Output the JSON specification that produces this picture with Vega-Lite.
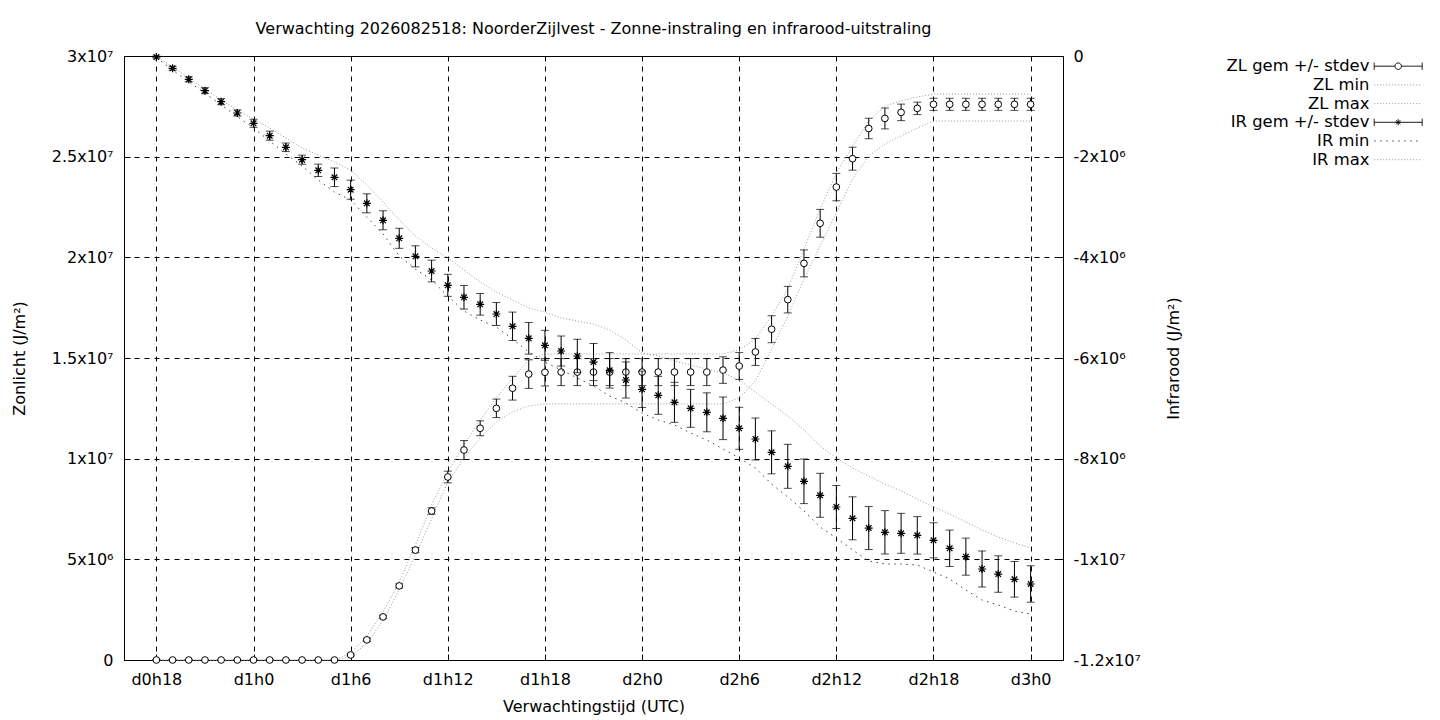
{
  "$schema": "https://vega.github.io/schema/vega-lite/v6.json",
  "width": 939,
  "height": 604,
  "autosize": {"type": "none"},
  "padding": {"left": 124, "top": 56, "right": 377, "bottom": 60},
  "background": "white",
  "title": {
    "text": "Verwachting 2026082518: NoorderZijlvest - Zonne-instraling en infrarood-uitstraling",
    "frame": "group",
    "anchor": "middle",
    "offset": 11,
    "font": "DejaVu Sans",
    "fontSize": 16,
    "fontWeight": "normal",
    "color": "black"
  },
  "data": {
    "values": [
      {"h": 18, "zl": 0, "zl_sd": 0, "zl_min": 0, "zl_max": 0, "ir": -20000, "ir_sd": 20000, "ir_min": -30000, "ir_max": 0},
      {"h": 19, "zl": 0, "zl_sd": 0, "zl_min": 0, "zl_max": 0, "ir": -244000, "ir_sd": 40000, "ir_min": -280000, "ir_max": -219000},
      {"h": 20, "zl": 0, "zl_sd": 0, "zl_min": 0, "zl_max": 0, "ir": -463000, "ir_sd": 50000, "ir_min": -510000, "ir_max": -437000},
      {"h": 21, "zl": 0, "zl_sd": 0, "zl_min": 0, "zl_max": 0, "ir": -689000, "ir_sd": 60000, "ir_min": -740000, "ir_max": -656000},
      {"h": 22, "zl": 0, "zl_sd": 0, "zl_min": 0, "zl_max": 0, "ir": -908000, "ir_sd": 60000, "ir_min": -970000, "ir_max": -874000},
      {"h": 23, "zl": 0, "zl_sd": 0, "zl_min": 0, "zl_max": 0, "ir": -1132000, "ir_sd": 60000, "ir_min": -1206000, "ir_max": -1073000},
      {"h": 24, "zl": 0, "zl_sd": 0, "zl_min": 0, "zl_max": 0, "ir": -1337000, "ir_sd": 80000, "ir_min": -1430000, "ir_max": -1252000},
      {"h": 25, "zl": 0, "zl_sd": 0, "zl_min": 0, "zl_max": 0, "ir": -1583000, "ir_sd": 90000, "ir_min": -1689000, "ir_max": -1430000},
      {"h": 26, "zl": 0, "zl_sd": 0, "zl_min": 0, "zl_max": 0, "ir": -1814000, "ir_sd": 85000, "ir_min": -1947000, "ir_max": -1629000},
      {"h": 27, "zl": 0, "zl_sd": 0, "zl_min": 0, "zl_max": 0, "ir": -2060000, "ir_sd": 90000, "ir_min": -2185000, "ir_max": -1828000},
      {"h": 28, "zl": 0, "zl_sd": 0, "zl_min": 0, "zl_max": 0, "ir": -2271000, "ir_sd": 123000, "ir_min": -2464000, "ir_max": -1967000},
      {"h": 29, "zl": 0, "zl_sd": 0, "zl_min": 0, "zl_max": 0, "ir": -2410000, "ir_sd": 185000, "ir_min": -2702000, "ir_max": -2106000},
      {"h": 30, "zl": 250000, "zl_sd": 50000, "zl_min": 150000, "zl_max": 350000, "ir": -2656000, "ir_sd": 189000, "ir_min": -2861000, "ir_max": -2265000},
      {"h": 31, "zl": 1000000, "zl_sd": 75000, "zl_min": 850000, "zl_max": 1190000, "ir": -2927000, "ir_sd": 189000, "ir_min": -3199000, "ir_max": -2563000},
      {"h": 32, "zl": 2140000, "zl_sd": 75000, "zl_min": 1950000, "zl_max": 2380000, "ir": -3264000, "ir_sd": 189000, "ir_min": -3536000, "ir_max": -2901000},
      {"h": 33, "zl": 3680000, "zl_sd": 100000, "zl_min": 3500000, "zl_max": 3870000, "ir": -3622000, "ir_sd": 199000, "ir_min": -3974000, "ir_max": -3258000},
      {"h": 34, "zl": 5460000, "zl_sd": 130000, "zl_min": 5200000, "zl_max": 5710000, "ir": -3980000, "ir_sd": 209000, "ir_min": -4232000, "ir_max": -3576000},
      {"h": 35, "zl": 7400000, "zl_sd": 160000, "zl_min": 7000000, "zl_max": 7700000, "ir": -4272000, "ir_sd": 215000, "ir_min": -4450000, "ir_max": -3815000},
      {"h": 36, "zl": 9090000, "zl_sd": 290000, "zl_min": 8840000, "zl_max": 9340000, "ir": -4556000, "ir_sd": 219000, "ir_min": -4768000, "ir_max": -4013000},
      {"h": 37, "zl": 10430000, "zl_sd": 470000, "zl_min": 10030000, "zl_max": 10680000, "ir": -4794000, "ir_sd": 234000, "ir_min": -5066000, "ir_max": -4252000},
      {"h": 38, "zl": 11510000, "zl_sd": 370000, "zl_min": 11030000, "zl_max": 11920000, "ir": -4933000, "ir_sd": 215000, "ir_min": -5245000, "ir_max": -4490000},
      {"h": 39, "zl": 12500000, "zl_sd": 460000, "zl_min": 11820000, "zl_max": 13010000, "ir": -5126000, "ir_sd": 228000, "ir_min": -5384000, "ir_max": -4689000},
      {"h": 40, "zl": 13500000, "zl_sd": 590000, "zl_min": 12320000, "zl_max": 14000000, "ir": -5370000, "ir_sd": 282000, "ir_min": -5623000, "ir_max": -4848000},
      {"h": 41, "zl": 14200000, "zl_sd": 710000, "zl_min": 12620000, "zl_max": 14900000, "ir": -5609000, "ir_sd": 314000, "ir_min": -5881000, "ir_max": -5007000},
      {"h": 42, "zl": 14290000, "zl_sd": 680000, "zl_min": 12720000, "zl_max": 15200000, "ir": -5748000, "ir_sd": 298000, "ir_min": -6080000, "ir_max": -5086000},
      {"h": 43, "zl": 14300000, "zl_sd": 670000, "zl_min": 12720000, "zl_max": 15200000, "ir": -5861000, "ir_sd": 298000, "ir_min": -6238000, "ir_max": -5205000},
      {"h": 44, "zl": 14300000, "zl_sd": 670000, "zl_min": 12720000, "zl_max": 15200000, "ir": -5960000, "ir_sd": 332000, "ir_min": -6397000, "ir_max": -5265000},
      {"h": 45, "zl": 14300000, "zl_sd": 670000, "zl_min": 12720000, "zl_max": 15200000, "ir": -6080000, "ir_sd": 368000, "ir_min": -6556000, "ir_max": -5325000},
      {"h": 46, "zl": 14300000, "zl_sd": 670000, "zl_min": 12720000, "zl_max": 15200000, "ir": -6245000, "ir_sd": 352000, "ir_min": -6755000, "ir_max": -5444000},
      {"h": 47, "zl": 14300000, "zl_sd": 670000, "zl_min": 12720000, "zl_max": 15200000, "ir": -6437000, "ir_sd": 358000, "ir_min": -6894000, "ir_max": -5643000},
      {"h": 48, "zl": 14300000, "zl_sd": 670000, "zl_min": 12720000, "zl_max": 15200000, "ir": -6622000, "ir_sd": 362000, "ir_min": -7093000, "ir_max": -5901000},
      {"h": 49, "zl": 14300000, "zl_sd": 670000, "zl_min": 12720000, "zl_max": 15200000, "ir": -6742000, "ir_sd": 377000, "ir_min": -7232000, "ir_max": -5960000},
      {"h": 50, "zl": 14300000, "zl_sd": 670000, "zl_min": 12720000, "zl_max": 15200000, "ir": -6881000, "ir_sd": 397000, "ir_min": -7331000, "ir_max": -6060000},
      {"h": 51, "zl": 14300000, "zl_sd": 670000, "zl_min": 12720000, "zl_max": 15200000, "ir": -7000000, "ir_sd": 377000, "ir_min": -7490000, "ir_max": -6139000},
      {"h": 52, "zl": 14300000, "zl_sd": 670000, "zl_min": 12720000, "zl_max": 15200000, "ir": -7079000, "ir_sd": 387000, "ir_min": -7629000, "ir_max": -6219000},
      {"h": 53, "zl": 14400000, "zl_sd": 660000, "zl_min": 12720000, "zl_max": 15200000, "ir": -7198000, "ir_sd": 423000, "ir_min": -7808000, "ir_max": -6298000},
      {"h": 54, "zl": 14600000, "zl_sd": 670000, "zl_min": 13010000, "zl_max": 15400000, "ir": -7397000, "ir_sd": 417000, "ir_min": -7987000, "ir_max": -6437000},
      {"h": 55, "zl": 15300000, "zl_sd": 670000, "zl_min": 13860000, "zl_max": 15940000, "ir": -7609000, "ir_sd": 417000, "ir_min": -8186000, "ir_max": -6676000},
      {"h": 56, "zl": 16430000, "zl_sd": 670000, "zl_min": 15450000, "zl_max": 17090000, "ir": -7874000, "ir_sd": 427000, "ir_min": -8503000, "ir_max": -6914000},
      {"h": 57, "zl": 17900000, "zl_sd": 660000, "zl_min": 17090000, "zl_max": 18430000, "ir": -8152000, "ir_sd": 437000, "ir_min": -8762000, "ir_max": -7152000},
      {"h": 58, "zl": 19700000, "zl_sd": 670000, "zl_min": 18920000, "zl_max": 20410000, "ir": -8450000, "ir_sd": 443000, "ir_min": -9040000, "ir_max": -7430000},
      {"h": 59, "zl": 21690000, "zl_sd": 690000, "zl_min": 20560000, "zl_max": 22400000, "ir": -8728000, "ir_sd": 437000, "ir_min": -9358000, "ir_max": -7748000},
      {"h": 60, "zl": 23490000, "zl_sd": 680000, "zl_min": 22200000, "zl_max": 24190000, "ir": -8960000, "ir_sd": 427000, "ir_min": -9576000, "ir_max": -7987000},
      {"h": 61, "zl": 24900000, "zl_sd": 570000, "zl_min": 23890000, "zl_max": 25530000, "ir": -9185000, "ir_sd": 427000, "ir_min": -9815000, "ir_max": -8186000},
      {"h": 62, "zl": 26400000, "zl_sd": 510000, "zl_min": 25030000, "zl_max": 26770000, "ir": -9378000, "ir_sd": 427000, "ir_min": -10033000, "ir_max": -8345000},
      {"h": 63, "zl": 26900000, "zl_sd": 520000, "zl_min": 25630000, "zl_max": 27520000, "ir": -9463000, "ir_sd": 431000, "ir_min": -10093000, "ir_max": -8504000},
      {"h": 64, "zl": 27200000, "zl_sd": 410000, "zl_min": 26030000, "zl_max": 27770000, "ir": -9483000, "ir_sd": 397000, "ir_min": -10093000, "ir_max": -8643000},
      {"h": 65, "zl": 27400000, "zl_sd": 310000, "zl_min": 26420000, "zl_max": 27960000, "ir": -9523000, "ir_sd": 372000, "ir_min": -10113000, "ir_max": -8802000},
      {"h": 66, "zl": 27600000, "zl_sd": 300000, "zl_min": 26770000, "zl_max": 28110000, "ir": -9622000, "ir_sd": 348000, "ir_min": -10252000, "ir_max": -8960000},
      {"h": 67, "zl": 27600000, "zl_sd": 300000, "zl_min": 26770000, "zl_max": 28110000, "ir": -9781000, "ir_sd": 362000, "ir_min": -10391000, "ir_max": -9100000},
      {"h": 68, "zl": 27600000, "zl_sd": 300000, "zl_min": 26770000, "zl_max": 28110000, "ir": -9947000, "ir_sd": 368000, "ir_min": -10610000, "ir_max": -9258000},
      {"h": 69, "zl": 27600000, "zl_sd": 300000, "zl_min": 26770000, "zl_max": 28110000, "ir": -10192000, "ir_sd": 358000, "ir_min": -10808000, "ir_max": -9417000},
      {"h": 70, "zl": 27600000, "zl_sd": 300000, "zl_min": 26770000, "zl_max": 28110000, "ir": -10292000, "ir_sd": 362000, "ir_min": -10907000, "ir_max": -9556000},
      {"h": 71, "zl": 27600000, "zl_sd": 300000, "zl_min": 26770000, "zl_max": 28110000, "ir": -10397000, "ir_sd": 354000, "ir_min": -11027000, "ir_max": -9676000},
      {"h": 72, "zl": 27600000, "zl_sd": 300000, "zl_min": 26770000, "zl_max": 28110000, "ir": -10490000, "ir_sd": 362000, "ir_min": -11086000, "ir_max": -9775000}
    ]
  },
  "encoding": {
    "x": {
      "field": "h",
      "type": "quantitative",
      "scale": {"domain": [16, 74], "nice": false, "zero": false},
      "axis": {
        "title": "Verwachtingstijd (UTC)",
        "values": [18, 24, 30, 36, 42, 48, 54, 60, 66, 72],
        "labelExpr": "'d' + floor(datum.value / 24) + 'h' + (datum.value % 24)",
        "labelPadding": 17,
        "titleY": 46,
        "titleBaseline": "middle"
      }
    }
  },
  "layer": [
    {
      "layer": [
        {
          "mark": {"type": "line", "strokeWidth": 1, "strokeDash": [1, 2]},
          "encoding": {
            "y": {
              "field": "zl_min",
              "type": "quantitative",
              "title": "Zonlicht (J/m²)",
              "scale": {"domain": [0, 30000000], "nice": false},
              "axis": {
                "orient": "left",
                "title": "Zonlicht (J/m²)",
                "values": [0, 5000000, 10000000, 15000000, 20000000, 25000000, 30000000],
                "labelExpr": "datum.value == 0 ? '0' : abs(datum.value) >= 10000000 ? (datum.value / 10000000) + 'x10⁷' : (datum.value / 1000000) + 'x10⁶'",
                "labelPadding": 17,
                "titleX": -105,
                "titleY": 302,
                "titleAngle": 270,
                "titleBaseline": "middle"
              }
            },
            "color": {
              "datum": "ZL min",
              "type": "nominal",
              "scale": {
                "domain": ["ZL gem +/- stdev", "ZL min", "ZL max", "IR gem +/- stdev", "IR min", "IR max"],
                "range": ["black", "#9a9a9a", "#9a9a9a", "black", "#444444", "#9a9a9a"]
              },
              "legend": {
                "title": null,
                "orient": "none",
                "legendX": 1266,
                "legendY": 2,
                "padding": 0,
                "symbolSize": 144,
                "labelAlign": "right",
                "labelOffset": -37,
                "labelFont": "DejaVu Sans",
                "labelFontSize": 16.4,
                "labelColor": "black",
                "labelLimit": 0,
                "rowPadding": 1.7,
                "encode": {
                  "symbols": {
                    "update": {
                      "shape": {"signal": "datum.value === 'ZL gem +/- stdev' ? 'M-4,0H-0.55M0.55,0H4M-4,-0.6V0.6M4,-0.6V0.6M0.55,0L0.476,0.275L0.275,0.476L0,0.55L-0.275,0.476L-0.476,0.275L-0.55,0L-0.476,-0.275L-0.275,-0.476L0,-0.55L0.275,-0.476L0.476,-0.275Z' : datum.value === 'IR gem +/- stdev' ? 'M-4,0H4M-4,-0.6V0.6M4,-0.6V0.6M-0.5,0H0.5M0,-0.5V0.5M-0.35,-0.35L0.35,0.35M-0.35,0.35L0.35,-0.35' : 'M-4,0H4'"},
                      "strokeDash": {"signal": "datum.value === 'IR min' ? [1.5, 4.5] : indexof(datum.value, 'gem') >= 0 ? [1, 0] : [1, 2]"},
                      "fill": {"signal": "'white'"},
                      "fillOpacity": {"signal": "0"},
                      "stroke": {"signal": "datum.value === 'IR min' ? '#444444' : indexof(datum.value, 'gem') >= 0 ? 'black' : '#9a9a9a'"},
                      "strokeWidth": {"value": 1},
                      "strokeOpacity": {"value": 1},
                      "opacity": {"value": 1}
                    }
                  }
                }
              }
            }
          }
        },
        {
          "mark": {"type": "line", "strokeWidth": 1, "strokeDash": [1, 2]},
          "encoding": {
            "y": {"field": "zl_max", "type": "quantitative", "title": "Zonlicht (J/m²)"},
            "color": {"datum": "ZL max", "type": "nominal"}
          }
        },
        {
          "mark": {"type": "errorbar", "ticks": {"size": 8}},
          "encoding": {
            "y": {"field": "zl", "type": "quantitative", "title": "Zonlicht (J/m²)"},
            "yError": {"field": "zl_sd"},
            "color": {"datum": "ZL gem +/- stdev", "type": "nominal"}
          }
        },
        {
          "mark": {"type": "point", "shape": "circle", "size": 45, "filled": false, "fill": "white", "fillOpacity": 1, "stroke": "black", "strokeWidth": 1, "opacity": 1},
          "encoding": {
            "y": {"field": "zl", "type": "quantitative", "title": "Zonlicht (J/m²)"}
          }
        }
      ]
    },
    {
      "layer": [
        {
          "mark": {"type": "line", "strokeWidth": 1, "strokeDash": [1.5, 4.5]},
          "encoding": {
            "y": {
              "field": "ir_min",
              "type": "quantitative",
              "title": "Infrarood (J/m²)",
              "scale": {"domain": [-12000000, 0], "nice": false},
              "axis": {
                "orient": "right",
                "title": "Infrarood (J/m²)",
                "grid": false,
                "values": [-12000000, -10000000, -8000000, -6000000, -4000000, -2000000, 0],
                "labelExpr": "datum.value == 0 ? '0' : abs(datum.value) >= 10000000 ? (datum.value / 10000000) + 'x10⁷' : (datum.value / 1000000) + 'x10⁶'",
                "labelPadding": 16,
                "titleX": 110,
                "titleY": 302,
                "titleAngle": 270,
                "titleBaseline": "middle"
              }
            },
            "color": {"datum": "IR min", "type": "nominal"}
          }
        },
        {
          "mark": {"type": "line", "strokeWidth": 1, "strokeDash": [1, 2]},
          "encoding": {
            "y": {"field": "ir_max", "type": "quantitative", "title": "Infrarood (J/m²)"},
            "color": {"datum": "IR max", "type": "nominal"}
          }
        },
        {
          "mark": {"type": "errorbar", "ticks": {"size": 8}},
          "encoding": {
            "y": {"field": "ir", "type": "quantitative", "title": "Infrarood (J/m²)"},
            "yError": {"field": "ir_sd"},
            "color": {"datum": "IR gem +/- stdev", "type": "nominal"}
          }
        },
        {
          "mark": {"type": "point", "shape": "M-1,0H1M0,-1V1M-0.7,-0.7L0.7,0.7M-0.7,0.7L0.7,-0.7", "size": 64, "filled": false, "stroke": "black", "strokeWidth": 1.2, "opacity": 1},
          "encoding": {
            "y": {"field": "ir", "type": "quantitative", "title": "Infrarood (J/m²)"}
          }
        }
      ]
    }
  ],
  "resolve": {"scale": {"y": "independent"}},
  "config": {
    "view": {"stroke": "black", "strokeWidth": 1},
    "axis": {
      "domain": false,
      "grid": true,
      "gridColor": "black",
      "gridOpacity": 1,
      "gridDash": [5, 5],
      "gridWidth": 1,
      "ticks": true,
      "tickColor": "black",
      "tickSize": -6,
      "tickWidth": 1,
      "labelFont": "DejaVu Sans",
      "labelFontSize": 16,
      "labelColor": "black",
      "labelFlush": false,
      "labelOverlap": false,
      "titleFont": "DejaVu Sans",
      "titleFontSize": 16,
      "titleFontWeight": "normal",
      "titleColor": "black"
    }
  }
}
